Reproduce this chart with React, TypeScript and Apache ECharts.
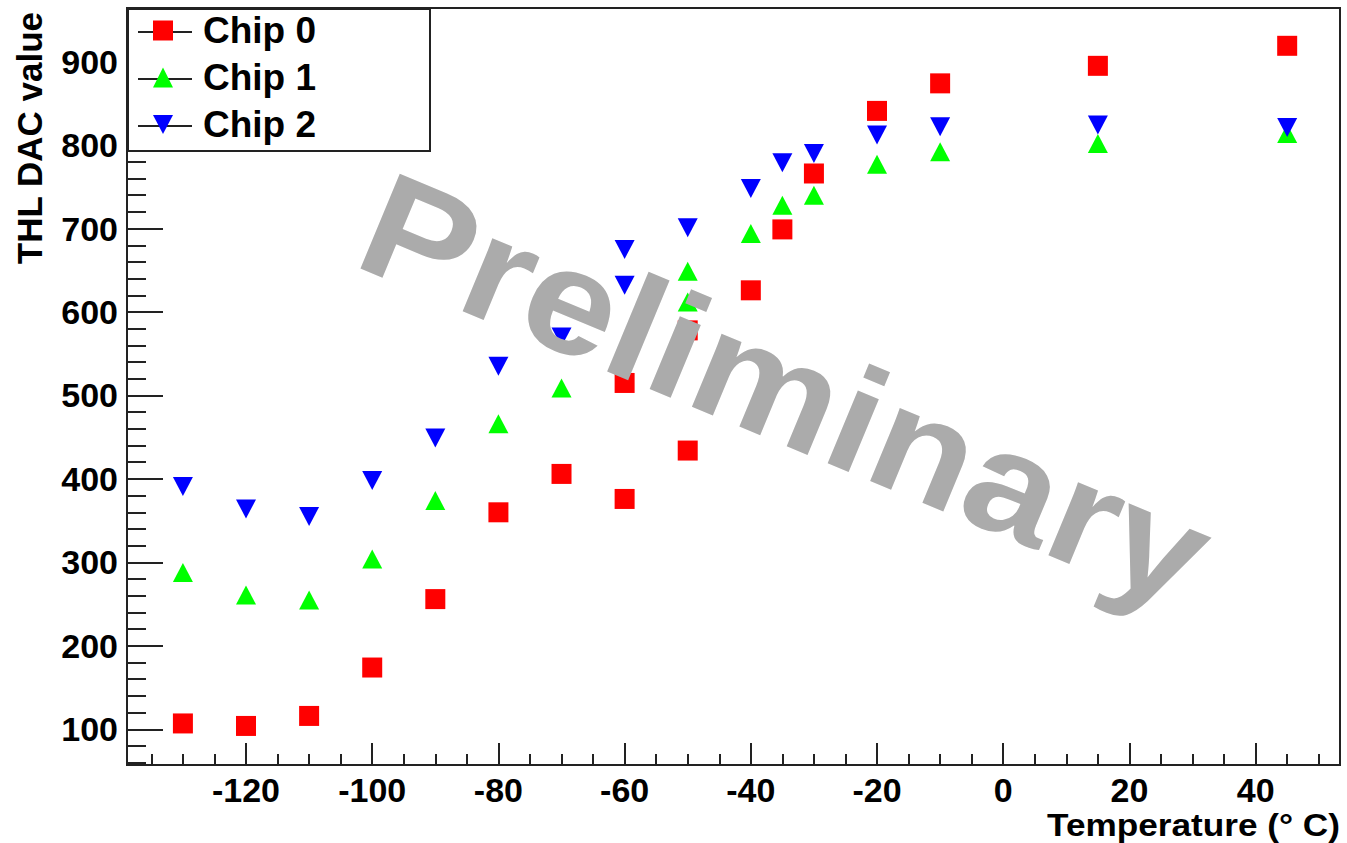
import React, { useEffect, useRef } from "react";
import * as echarts from "echarts";

// Chip 0 (red squares)
const chip0X = [-130, -120, -110, -100, -90, -80, -70, -60, -60, -50, -50, -40, -35, -30, -20, -10, 15, 45];
const chip0Y = [107, 104, 116, 174, 256, 360, 406, 515, 376, 578, 434, 626, 699, 766, 841, 874, 895, 919];
// Chip 1 (green up triangles)
const chip1X = [-130, -120, -110, -100, -90, -80, -70, -50, -50, -40, -35, -30, -20, -10, 15, 45];
const chip1Y = [288, 261, 255, 304, 374, 466, 509, 649, 612, 694, 728, 740, 777, 792, 802, 814];
// Chip 2 (blue down triangles)
const chip2X = [-130, -120, -110, -100, -90, -80, -70, -60, -60, -50, -40, -35, -30, -20, -10, 15, 45];
const chip2Y = [391, 364, 355, 398, 449, 535, 570, 675, 632, 701, 748, 779, 790, 812, 822, 824, 821];

const seriesNames = ["Chip 0", "Chip 1", "Chip 2"];
const xTitle = "Temperature (° C)";
const yTitle = "THL DAC value";
const watermark = "Preliminary";

const X_MIN = -138.86;
const X_MAX = 53.37;
const Y_MIN = 57.2;
const Y_MAX = 964.3;

const FONT = "'Liberation Sans', Arial, Helvetica, sans-serif";
const AX = "#222";
const DOWN_TRIANGLE = "path://M0,0 L20,0 L10,19 Z";

function pairs(xs: number[], ys: number[]) {
  return xs.map((x, i) => [x, ys[i]]);
}

export default function App() {
  const ref = useRef<HTMLDivElement>(null);
  useEffect(() => {
    if (!ref.current) return;
    const chart = echarts.init(ref.current, null, { renderer: "svg" });
    const labelStyle = {
      color: "#000",
      fontSize: 34,
      fontWeight: "bold" as const,
      fontFamily: FONT,
    };
    const option: any = {
      animation: false,
      backgroundColor: "#fff",
      grid: {
        left: 127,
        right: 7,
        top: 8,
        bottom: 78,
        show: true,
        borderColor: AX,
        borderWidth: 2,
        backgroundColor: "transparent",
      },
      xAxis: {
        type: "value",
        min: X_MIN,
        max: X_MAX,
        splitNumber: 10,
        axisLine: { show: true, onZero: false, lineStyle: { color: AX, width: 2 } },
        axisTick: { show: true, inside: true, length: 22, lineStyle: { color: AX, width: 2 } },
        minorTick: { show: true, splitNumber: 4, length: 11, lineStyle: { color: AX, width: 2 } },
        axisLabel: { ...labelStyle, showMinLabel: false, showMaxLabel: false, margin: 8 },
        splitLine: { show: false },
        minorSplitLine: { show: false },
      },
      yAxis: {
        type: "value",
        min: Y_MIN,
        max: Y_MAX,
        splitNumber: 9,
        axisLine: { show: true, onZero: false, lineStyle: { color: AX, width: 2 } },
        axisTick: { show: true, inside: true, length: 36, lineStyle: { color: AX, width: 2 } },
        minorTick: { show: true, splitNumber: 5, length: 19, lineStyle: { color: AX, width: 2 } },
        axisLabel: { ...labelStyle, showMinLabel: false, showMaxLabel: false, margin: 9 },
        splitLine: { show: false },
        minorSplitLine: { show: false },
      },
      legend: {
        orient: "vertical",
        left: 153,
        top: 12,
        itemWidth: 20,
        itemHeight: 20,
        itemGap: 10,
        padding: 0,
        z: 10,
        selectedMode: false,
        data: seriesNames,
        textStyle: { ...labelStyle, fontSize: 37, padding: [0, 0, 0, 25] },
      },
      series: [
        {
          name: seriesNames[0],
          type: "scatter",
          symbol: "rect",
          symbolSize: 20,
          itemStyle: { color: "#ff0000", opacity: 1 },
          data: pairs(chip0X, chip0Y),
          z: 2,
        },
        {
          name: seriesNames[1],
          type: "scatter",
          symbol: "triangle",
          symbolSize: [20, 19],
          itemStyle: { color: "#00ff00", opacity: 1 },
          data: pairs(chip1X, chip1Y),
          z: 2,
        },
        {
          name: seriesNames[2],
          type: "scatter",
          symbol: DOWN_TRIANGLE,
          symbolKeepAspect: false,
          symbolSize: [20, 19],
          itemStyle: { color: "#0000ff", opacity: 1 },
          data: pairs(chip2X, chip2Y),
          z: 2,
        },
      ],
      graphic: {
        elements: [
          {
            type: "text",
            x: 786,
            y: 390,
            rotation: (-22.6 * Math.PI) / 180,
            scaleX: 1.11,
            scaleY: 1,
            z: 5,
            silent: true,
            style: {
              text: watermark,
              font: `bold 149px ${FONT}`,
              fill: "#ababab",
              align: "center",
              verticalAlign: "middle",
              textAlign: "center",
              textVerticalAlign: "middle",
            },
          },
          {
            type: "text",
            x: 29,
            y: 12,
            rotation: Math.PI / 2,
            z: 5,
            style: {
              text: yTitle,
              font: `bold 35px ${FONT}`,
              fill: "#000",
              align: "right",
              verticalAlign: "middle",
              textAlign: "right",
              textVerticalAlign: "middle",
            },
          },
          {
            type: "text",
            x: 1340,
            y: 825,
            scaleX: 1.1,
            scaleY: 1,
            z: 5,
            style: {
              text: xTitle,
              font: `bold 32px ${FONT}`,
              fill: "#000",
              align: "right",
              verticalAlign: "middle",
              textAlign: "right",
              textVerticalAlign: "middle",
            },
          },
          {
            type: "rect",
            z: 6,
            shape: { x: 128, y: 9, width: 302, height: 142 },
            style: { fill: "#fff", stroke: AX, lineWidth: 2 },
          },
          {
            type: "line",
            z: 7,
            shape: { x1: 138, y1: 32, x2: 192, y2: 32 },
            style: { stroke: AX, lineWidth: 2 },
          },
          {
            type: "line",
            z: 7,
            shape: { x1: 138, y1: 79, x2: 192, y2: 79 },
            style: { stroke: AX, lineWidth: 2 },
          },
          {
            type: "line",
            z: 7,
            shape: { x1: 138, y1: 126, x2: 192, y2: 126 },
            style: { stroke: AX, lineWidth: 2 },
          },
        ],
      },
    };
    chart.setOption(option);
    return () => chart.dispose();
  }, []);
  return (
    <div
      ref={ref}
      style={{ position: "absolute", left: 0, top: 0, width: 1347, height: 843 }}
    />
  );
}
